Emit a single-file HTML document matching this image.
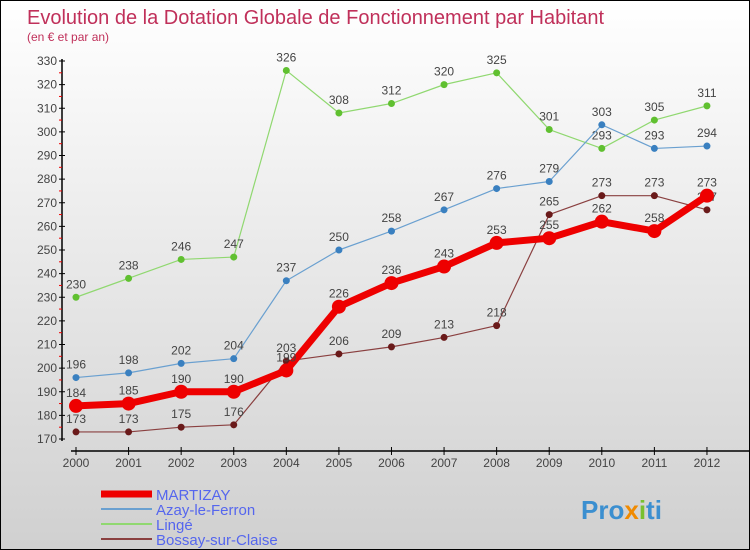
<!DOCTYPE html>
<html><head><meta charset="utf-8"><style>
body{margin:0}
#c{width:750px;height:550px;position:relative;background:linear-gradient(#ffffff,#d0d0d0);border:1px solid #000;box-sizing:border-box;font-family:"Liberation Sans",sans-serif;overflow:hidden}
svg text{font-family:"Liberation Sans",sans-serif}
</style></head><body>
<div id="c">
<svg id="s" width="750" height="550">
<text x="26" y="23" font-size="20" fill="#c0305a">Evolution de la Dotation Globale de Fonctionnement par Habitant</text>
<text x="26" y="40" font-size="12" fill="#c0305a">(en € et par an)</text>
<g id="axes"></g><g id="series"></g><g id="legend"></g>
<text x="580" y="518" font-size="26" font-weight="bold" fill="#3b8fd0">Pro<tspan fill="#f08a00">x</tspan><tspan fill="#78c030">i</tspan>ti</text>
</svg></div>
<script>
const years=["2000","2001","2002","2003","2004","2005","2006","2007","2008","2009","2010","2011","2012"];
const yTicks=[170,180,190,200,210,220,230,240,250,260,270,280,290,300,310,320,330];
const martizay=[184,185,190,190,199,226,236,243,253,255,262,258,273];
const azay=[196,198,202,204,237,250,258,267,276,279,303,293,294];
const linge=[230,238,246,247,326,308,312,320,325,301,293,305,311];
const bossay=[173,173,175,176,203,206,209,213,218,265,273,273,267];
const NS="http://www.w3.org/2000/svg";
const X=i=>75+i*52.58, Y=v=>438-(v-170)*2.3625;
function mk(p,t,a){const e=document.createElementNS(NS,t);for(const k in a)e.setAttribute(k,a[k]);p.appendChild(e);return e;}
const ax=document.getElementById('axes');
let yl=mk(ax,'line',{x1:61,y1:58,x2:61,y2:440,stroke:'#000','stroke-width':1.5});


yTicks.forEach(v=>{
 mk(ax,'line',{x1:58,x2:64,y1:Y(v),y2:Y(v),stroke:'#000'});
 if(v<330)mk(ax,'line',{x1:58,x2:61,y1:Y(v+5),y2:Y(v+5),stroke:'#e00'});
 const t=mk(ax,'text',{x:56,y:Y(v)+4,'font-size':12,'text-anchor':'end',fill:'#444'});t.textContent=v;
 
 
});
let xl=mk(ax,'line',{x1:70,y1:450,x2:750,y2:450,stroke:'#000','stroke-width':1.5});


years.forEach((y,i)=>{
 mk(ax,'line',{x1:X(i),x2:X(i),y1:446,y2:454,stroke:'#000'});
 const t=mk(ax,'text',{x:X(i),y:466,'font-size':12,'text-anchor':'middle',fill:'#444'});t.textContent=y;
 
 
});
const sg=document.getElementById('series');
function series(name,data,col,dot,w,r,labels){
 const g=mk(sg,'g',{});
 
 
 mk(g,'polyline',{points:data.map((v,i)=>X(i)+','+Y(v)).join(' '),fill:'none',stroke:col,'stroke-width':w,'stroke-linejoin':'round'});
 data.forEach((v,i)=>{
  const c=mk(g,'circle',{cx:X(i),cy:Y(v),r:r,fill:dot});
  
  
  if(labels){const t=mk(g,'text',{x:X(i),y:Y(v)-9,'font-size':12,'text-anchor':'middle',fill:'#444'});t.textContent=v;
  
  }
 });
}
series('bossay',bossay,'#8a4040','#6a1a1a',1.2,3.5,true);
series('linge',linge,'#90d870','#60c030',1.2,3.5,true);
series('azay',azay,'#6aa0d0','#3a80c0',1.2,3.5,true);
series('martizay',martizay,'#ee0000','#ee0000',7,7,true);
const lg=document.getElementById('legend');
[["MARTIZAY","#ee0000",7],["Azay-le-Ferron","#6aa0d0",2],["Lingé","#90d870",2],["Bossay-sur-Claise","#8a4040",2]].forEach((d,i)=>{
 const y=493+i*15;
 mk(lg,'line',{x1:100,x2:151,y1:y,y2:y,stroke:d[1],'stroke-width':d[2]});
 const t=mk(lg,'text',{x:155,y:y+6,'font-size':15,fill:'#5566ee'});t.textContent=d[0];
 
 
});
</script></body></html>
